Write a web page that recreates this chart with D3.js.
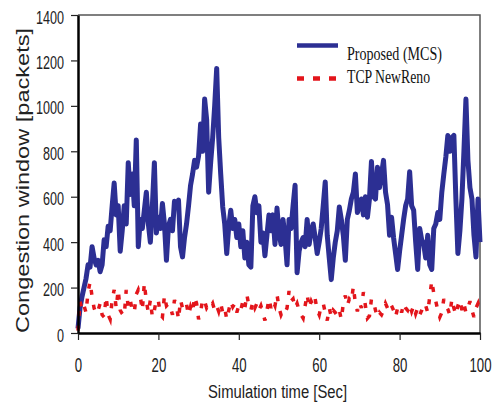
<!DOCTYPE html>
<html>
<head>
<meta charset="utf-8">
<script src="https://cdn.jsdelivr.net/npm/d3@7"></script>
<style>
  html, body { margin: 0; padding: 0; background: #fff; }
  svg { display: block; }
</style>
</head>
<body>
<svg width="493" height="405"></svg>
<script>
// sample times are every half second, 0..100
var sampleStep = 0.5;
var xTicks = [0, 20, 40, 60, 80, 100];
var yTicks = [0, 200, 400, 600, 800, 1000, 1200, 1400];
var seriesNames = ['Proposed (MCS)', 'TCP NewReno'];

var proposed = [
  20, 110, 160, 200, 240, 300, 290, 380, 330, 300,
  320, 270, 300, 410, 380, 470, 450, 560, 660, 520,
  560, 360, 450, 560, 480, 750, 610, 700, 560, 850,
  380, 500, 460, 540, 620, 480, 400, 560, 750, 440,
  510, 460, 570, 480, 320, 470, 500, 450, 580, 560,
  585, 380, 335, 420, 480, 560, 650, 700, 760, 730,
  780, 920, 800, 1030, 940, 620, 750, 860, 1000, 1165,
  860, 700, 555, 480, 350, 470, 540, 460, 500, 420,
  480, 380, 450, 330, 400, 300, 290, 560, 600, 530,
  560, 400, 440, 340, 430, 520, 450, 520, 390, 550,
  440, 390, 500, 420, 300, 500, 460, 560, 650, 265,
  360, 400, 420, 380, 500, 390, 450, 480, 420, 350,
  400, 460, 560, 665, 430, 330, 235, 330, 400, 450,
  555, 500, 430, 320, 500, 540, 590, 620, 700, 530,
  560, 590, 520, 600, 510, 590, 755, 600, 590, 730,
  640, 700, 760, 620, 565, 430, 510, 420, 350, 280,
  360, 430, 500, 560, 590, 710, 560, 540, 400, 280,
  460, 410, 390, 330, 430, 300, 280, 460, 480, 530,
  500, 620, 700, 775, 870, 800, 860, 870, 590, 350,
  450, 590, 800, 1030, 760, 640, 590, 430, 335, 590,
  400
];

var newReno = [
  10, 140, 100, 120, 90, 180, 225, 160, 110, 85,
  100, 130, 80, 70, 160, 80, 60, 145, 190, 110,
  190, 100, 85, 75, 190, 115, 145, 100, 90, 170,
  190, 160, 100, 220, 140, 90, 145, 70, 100, 150,
  140, 80, 70, 165, 120, 130, 115, 80, 145, 120,
  60, 145, 110, 100, 125, 80, 115, 90, 160, 130,
  60, 90, 150, 140, 110, 125, 115, 130, 100, 120,
  95, 130, 90, 110, 60, 100, 140, 115, 130, 90,
  120, 100, 140, 110, 170, 120, 100, 140, 110, 130,
  100, 120, 90, 55, 100, 150, 110, 140, 120, 170,
  110, 80, 100, 90, 110, 185, 140, 150, 110, 130,
  100, 80, 65, 120, 170, 110, 140, 120, 150, 100,
  80, 120, 130, 90, 55, 110, 70, 100, 90, 75,
  100, 60, 130, 165, 120, 150, 140, 205, 130, 95,
  135, 110, 180, 120, 65, 75, 150, 140, 100, 70,
  90, 80, 100, 130, 110, 135, 120, 100, 70, 110,
  120, 90, 130, 110, 100, 125, 95, 120, 85, 110,
  80, 100, 130, 120, 90, 160, 230, 175, 140, 100,
  70, 90, 150, 120, 105, 80, 150, 110, 80, 120,
  145, 100, 130, 90, 110, 140, 100, 70, 110, 130,
  90
];

function drawChart() {
  'use strict';
  var svg = d3.select('svg');
  var margin = {top: 15, left: 78, right: 13, bottom: 72};
  var width = 493 - margin.left - margin.right;
  var height = 405 - margin.top - margin.bottom;
  var blue = '#2c2f93';
  var red = '#e3151b';

  var x = d3.scaleLinear().domain([0, 100]).range([0, width]);
  var y = d3.scaleLinear().domain([0, 1400]).range([height, 0]);

  var g = svg.append('g')
    .attr('transform', 'translate(' + [margin.left, margin.top] + ')');

  // top and right frame
  g.append('path')
    .attr('d', 'M0,0 H' + width + ' V' + height)
    .style('fill', 'none')
    .style('stroke', '#555')
    .style('stroke-width', '1.5px');

  var line = d3.line()
    .x(function (d, i) { return x(i * sampleStep); })
    .y(function (d) { return y(d); });

  g.append('path')
    .datum(proposed)
    .attr('d', line)
    .style('fill', 'none')
    .style('stroke', blue)
    .style('stroke-width', '5px')
    .style('stroke-linejoin', 'round');

  g.append('path')
    .datum(newReno)
    .attr('d', line)
    .style('fill', 'none')
    .style('stroke', red)
    .style('stroke-width', '3.5px')
    .style('stroke-dasharray', '5,10');

  var xAxis = g.append('g')
    .attr('transform', 'translate(0,' + height + ')')
    .call(d3.axisBottom(x).tickValues(xTicks).tickSize(7).tickSizeOuter(0));
  xAxis.select('.domain').style('stroke', '#000').style('stroke-width', '2.5px');
  xAxis.selectAll('line').style('stroke', '#222').style('stroke-width', '1.2px');
  xAxis.selectAll('text')
    .attr('y', 39)
    .attr('dy', 0)
    .attr('transform', 'scale(0.66,1)')
    .style('font-family', 'Liberation Sans, Arial, sans-serif')
    .style('font-size', '20px')
    .style('fill', '#222');

  var yAxis = g.append('g')
    .call(d3.axisLeft(y).tickValues(yTicks).tickFormat(d3.format('d'))
      .tickSize(7).tickSizeOuter(0));
  yAxis.select('.domain').style('stroke', '#000').style('stroke-width', '2.5px');
  yAxis.selectAll('line').style('stroke', '#222').style('stroke-width', '1.2px');
  yAxis.selectAll('text')
    .attr('x', 0)
    .attr('dy', '0.45em')
    .attr('transform', 'translate(-14,0) scale(0.7,1)')
    .style('font-family', 'Liberation Sans, Arial, sans-serif')
    .style('font-size', '18px')
    .style('fill', '#222');

  svg.append('text')
    .attr('x', 208)
    .attr('y', 398)
    .attr('textLength', 139)
    .attr('lengthAdjust', 'spacingAndGlyphs')
    .style('font-family', 'Liberation Sans, Arial, sans-serif')
    .style('font-size', '18px')
    .style('fill', '#222')
    .text('Simulation time [Sec]');

  svg.append('text')
    .attr('transform', 'translate(29,333) rotate(-90)')
    .attr('textLength', 305)
    .attr('lengthAdjust', 'spacingAndGlyphs')
    .style('font-family', 'Liberation Sans, Arial, sans-serif')
    .style('font-size', '19px')
    .style('fill', '#222')
    .text('Congestion window [packets]');

  // legend
  var legend = svg.append('g');
  var legendRows = [
    {name: seriesNames[0], color: blue, dash: null, ly: 45.5, ty: 60, tl: 95},
    {name: seriesNames[1], color: red, dash: '7,9', ly: 78.5, ty: 83, tl: 83}
  ];
  legendRows.forEach(function (r) {
    legend.append('line')
      .attr('x1', 297).attr('x2', 338)
      .attr('y1', r.ly).attr('y2', r.ly)
      .style('stroke', r.color)
      .style('stroke-width', '4.5px')
      .style('stroke-dasharray', r.dash);
    legend.append('text')
      .attr('x', 347)
      .attr('y', r.ty)
      .attr('textLength', r.tl)
      .attr('lengthAdjust', 'spacingAndGlyphs')
      .style('font-family', 'Liberation Serif, Times New Roman, serif')
      .style('font-size', '18px')
      .style('fill', '#111')
      .text(r.name);
  });
}

drawChart();
</script>
</body>
</html>
